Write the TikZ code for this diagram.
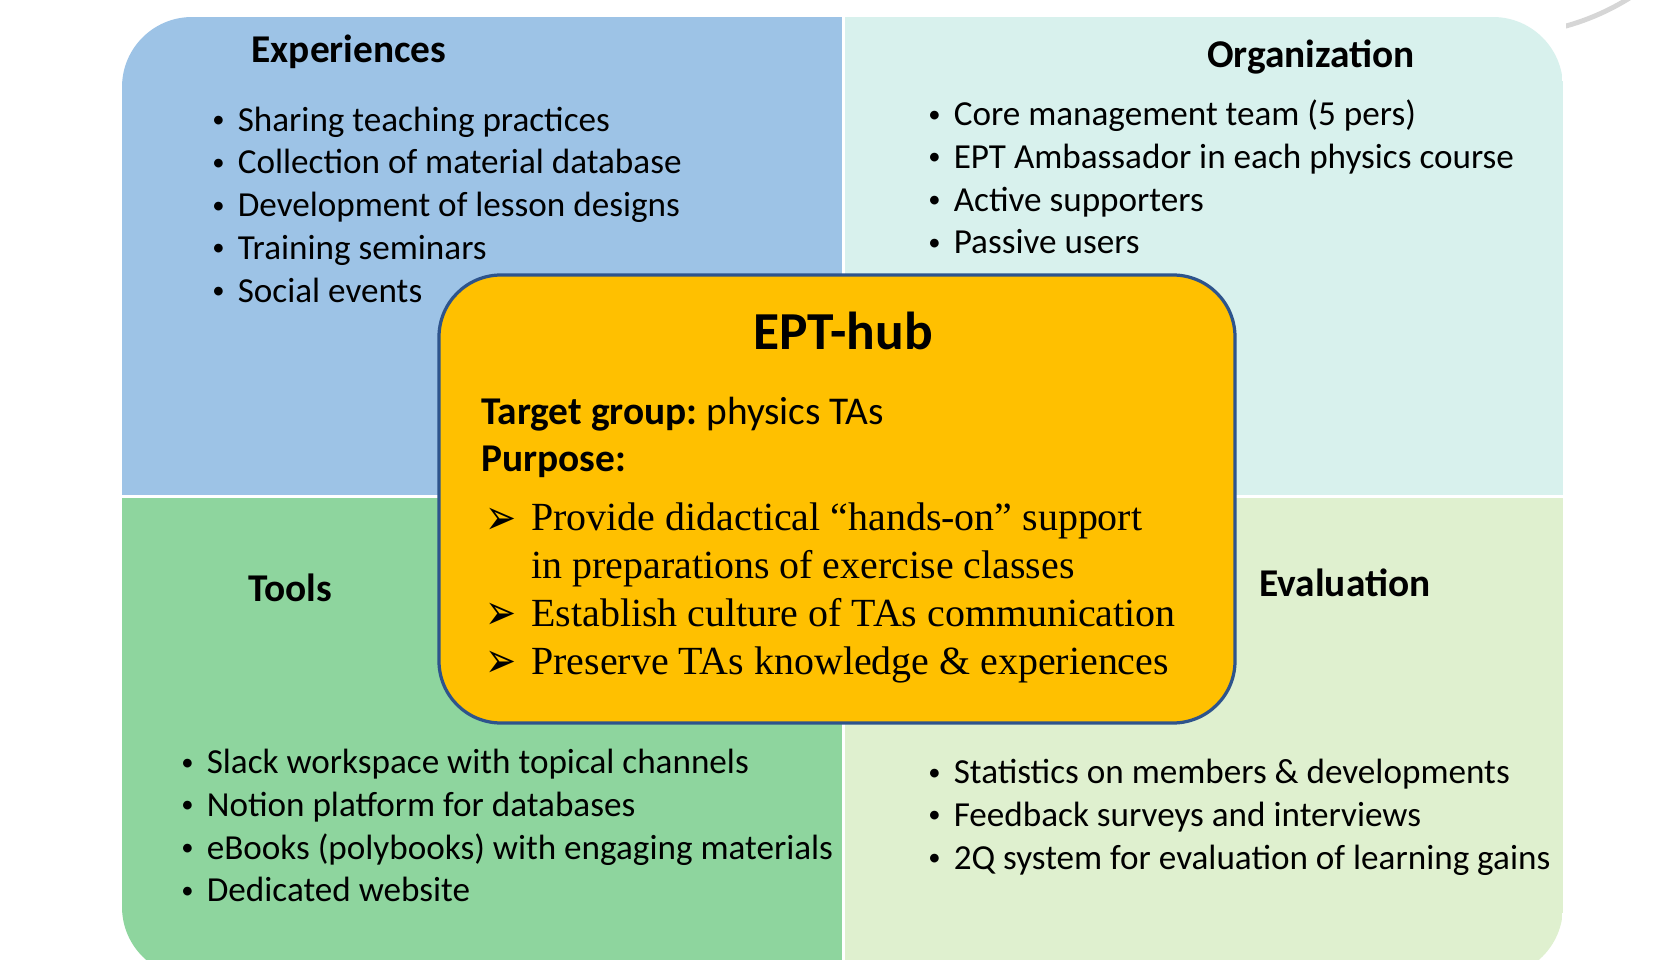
\documentclass[tikz,border=0pt]{standalone}
\usepackage{graphicx}
\usepackage{fontspec}
\setmainfont{Carlito}
\newfontfamily\timesfont{Liberation Serif}
\newfontfamily\dingfont{DejaVu Sans}
\usetikzlibrary{positioning}
\frenchspacing

\definecolor{expblue}{RGB}{157,195,230}
\definecolor{orgteal}{RGB}{216,241,237}
\definecolor{toolgreen}{RGB}{142,213,158}
\definecolor{evalgreen}{RGB}{223,240,207}
\definecolor{hubyellow}{RGB}{255,192,0}
\definecolor{hubborder}{RGB}{46,84,140}
\definecolor{arcgray}{RGB}{214,214,214}

\newcommand{\itm}{\makebox[27.4pt]{\raisebox{0.1em}{\scalebox{0.7}{\textbullet}}}}
\newcommand{\arw}{\makebox[35.6pt][l]{\hspace{2.8pt}\dingfont\fontsize{22}{34}\selectfont\raisebox{-0.12em}{\scalebox{1.2}[1.6]{➢}}}}

\begin{document}
\begin{tikzpicture}[x=0.25mm, y=-0.25mm,
    head/.style={font=\fontsize{28}{34}\selectfont\bfseries, inner sep=0pt},
    list/.style={font=\fontsize{25}{30.4}\selectfont, anchor=north west, inner sep=0pt},
    boxtext/.style={font=\fontsize{28}{34}\selectfont, inner sep=0pt},
    hubbox/.style={draw=hubborder, line width=2.3pt, fill=hubyellow, rounded corners=15.5mm,
        minimum width=199mm, minimum height=112mm}]

    \useasboundingbox (0,0) rectangle (1680,960);

    % Quadrants
    \begin{scope}
        \clip[rounded corners=17.5mm] (122,17) rectangle (1563,977);
        \fill[expblue] (122,17) rectangle (842,495);
        \fill[orgteal] (845,17) rectangle (1563,495);
        \fill[toolgreen] (122,498) rectangle (842,977);
        \fill[evalgreen] (845,498) rectangle (1563,977);
    \end{scope}
    \begin{scope}
        \clip (1566,-5) rectangle (1700,40);
        \draw[arcgray, line width=3.5pt] (1500,-210) circle[radius=61.25mm];
    \end{scope}

    % Headings
    \node [head] at (349,52) (exphead) {Experiences};
    \node [head] at (1311,56.5) (orghead) {Organization};
    \node [head] at (290,588) (toolhead) {Tools};
    \node [head] at (1345,583) (evalhead) {Evaluation};

    % Lists
    \node [list] at (199,101) (explist) {\begin{tabular}{@{}l@{}}
        \itm Sharing teaching practices\\
        \itm Collection of material database\\
        \itm Development of lesson designs\\
        \itm Training seminars\\
        \itm Social events\end{tabular}};
    \node [list] at (915,95.5) (orglist) {\begin{tabular}{@{}l@{}}
        \itm Core management team (5 pers)\\
        \itm EPT Ambassador in each physics course\\
        \itm Active supporters\\
        \itm Passive users\end{tabular}};
    \node [list] at (168,743.5) (toollist) {\begin{tabular}{@{}l@{}}
        \itm Slack workspace with topical channels\\
        \itm Notion platform for databases\\
        \itm eBooks (polybooks) with engaging materials\\
        \itm Dedicated website\end{tabular}};
    \node [list] at (915,753.5) (evallist) {\begin{tabular}{@{}l@{}}
        \itm Statistics on members \& developments\\
        \itm Feedback surveys and interviews\\
        \itm 2Q system for evaluation of learning gains\end{tabular}};

    % Hub
    \node [hubbox] at (837,499) (hub) {};
    \node [font=\fontsize{38}{44}\selectfont\bfseries, inner sep=0pt] at (843,331) (hubtitle) {EPT-hub};
    \node [boxtext, anchor=west] at (481,414.5) (target) {\textbf{Target group:} physics TAs};
    \node [boxtext, below=34pt of target.west, anchor=west] (purpose) {\textbf{Purpose:}};
    \node [font=\timesfont\fontsize{28.4}{34}\selectfont, inner sep=0pt,
        below=24.6pt of purpose.west, anchor=north west] (purplist) {\begin{tabular}{@{}l@{}l@{}}
        \arw & Provide didactical “hands-on” support\\
             & in preparations of exercise classes\\
        \arw & Establish culture of TAs communication\\
        \arw & Preserve TAs knowledge \& experiences\end{tabular}};

\end{tikzpicture}
\end{document}
